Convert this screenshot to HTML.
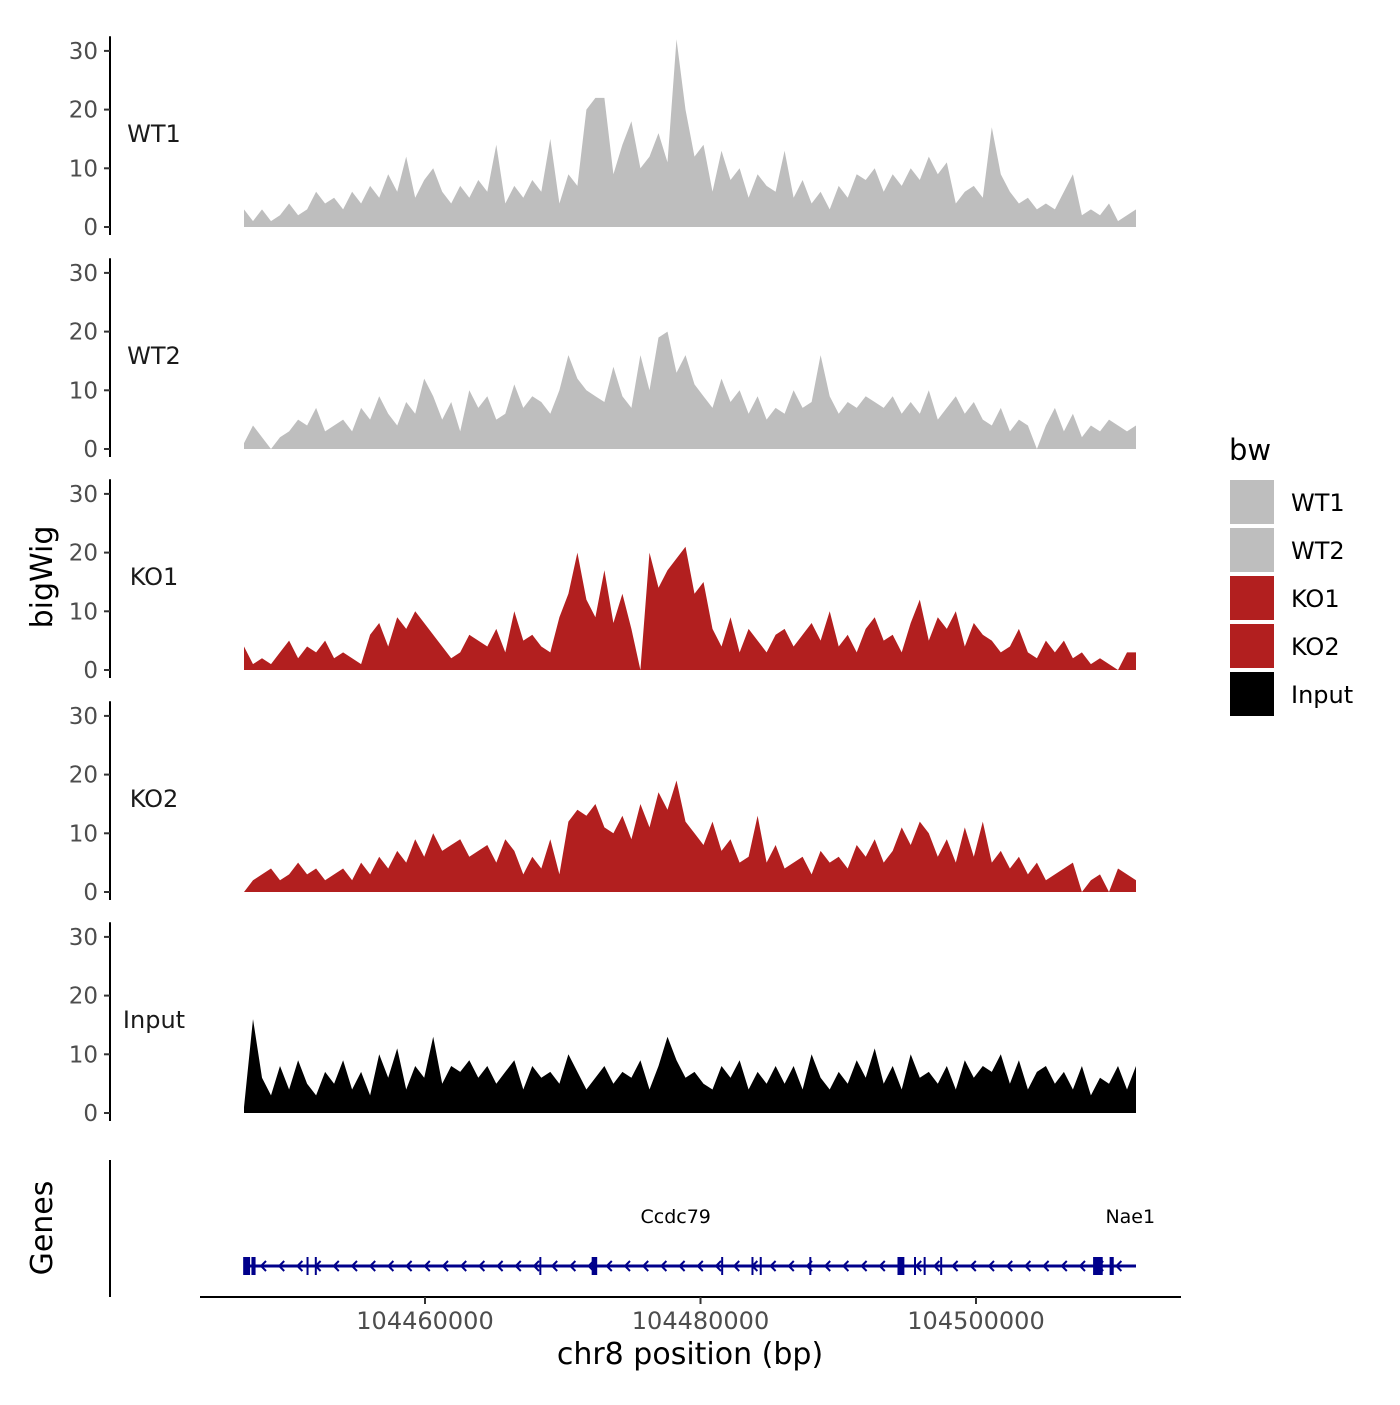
<!DOCTYPE html>
<html><head><meta charset="utf-8"><style>
html,body{margin:0;padding:0;background:#fff;}
svg text{font-family:"DejaVu Sans","Liberation Sans",sans-serif;}
</style></head><body>
<svg id="chart" width="1400" height="1400" viewBox="0 0 1400 1400" xmlns="http://www.w3.org/2000/svg">
<g id="panels"></g>
<text transform="translate(52,577) rotate(-90)" text-anchor="middle" font-size="30" fill="#000">bigWig</text>
<text transform="translate(52,1228) rotate(-90)" text-anchor="middle" font-size="30" fill="#000">Genes</text>
<line x1="110" y1="1160" x2="110" y2="1297" stroke="#000" stroke-width="2"/>
<line x1="200" y1="1297" x2="1181" y2="1297" stroke="#000" stroke-width="2"/>
<g id="xticks"></g>
<text x="690" y="1364" text-anchor="middle" font-size="30" fill="#000">chr8 position (bp)</text>
<g id="genes"></g>
<g>
<text x="1229" y="460" font-size="29" fill="#000">bw</text>
<g id="legend"></g>
</g>
</svg>
<script>
const trackNames = ["WT1","WT2","KO1","KO2","Input"];
const trackColors = ["#bebebe","#bebebe","#b21f1f","#b21f1f","#000000"];
const yTicks = [0,10,20,30];
const xTickValues = [104460000,104480000,104500000];
const wt1 = [3,1,3,1,2,4,2,3,6,4, 5,3,6,4,7,5,9,6,12,5, 8,10,6,4,7,5,8,6,14,4, 7,5,8,6,15,4,9,7,20,22, 22,9,14,18,10,12,16,11,32,20, 12,14,6,13,8,10,5,9,7,6, 13,5,8,4,6,3,7,5,9,8, 10,6,9,7,10,8,12,9,11,4, 6,7,5,17,9,6,4,5,3,4, 3,6,9,2,3,2,4,1,2,3];
const wt2 = [1,4,2,0,2,3,5,4,7,3, 4,5,3,7,5,9,6,4,8,6, 12,9,5,8,3,10,7,9,5,6, 11,7,9,8,6,10,16,12,10,9, 8,14,9,7,16,10,19,20,13,16, 11,9,7,12,8,10,6,9,5,7, 6,10,7,8,16,9,6,8,7,9, 8,7,9,6,8,6,10,5,7,9, 6,8,5,4,7,3,5,4,0,4, 7,3,6,2,4,3,5,4,3,4];
const ko1 = [4,1,2,1,3,5,2,4,3,5, 2,3,2,1,6,8,4,9,7,10, 8,6,4,2,3,6,5,4,7,3, 10,5,6,4,3,9,13,20,12,9, 17,8,13,7,0,20,14,17,19,21, 13,15,7,4,9,3,7,5,3,6, 7,4,6,8,5,10,4,6,3,7, 9,5,6,3,8,12,5,9,7,10, 4,8,6,5,3,4,7,3,2,5, 3,5,2,3,1,2,1,0,3,3];
const ko2 = [0,2,3,4,2,3,5,3,4,2, 3,4,2,5,3,6,4,7,5,9, 6,10,7,8,9,6,7,8,5,9, 7,3,6,4,9,3,12,14,13,15, 11,10,13,9,15,11,17,14,19,12, 10,8,12,7,9,5,6,13,5,8, 4,5,6,3,7,5,6,4,8,6, 9,5,7,11,8,12,10,6,9,5, 11,6,12,5,7,4,6,3,5,2, 3,4,5,0,2,3,0,4,3,2];
const input = [1,16,6,3,8,4,9,5,3,7, 5,9,4,7,3,10,6,11,4,8, 6,13,5,8,7,9,6,8,5,7, 9,4,8,6,7,5,10,7,4,6, 8,5,7,6,9,4,8,13,9,6, 7,5,4,8,6,9,4,7,5,8, 5,8,4,10,6,4,7,5,9,6, 11,5,8,4,10,6,7,5,8,4, 9,6,8,7,10,5,9,4,7,8, 5,7,4,8,3,6,5,8,4,8];
const seriesValues = [wt1,wt2,ko1,ko2,input];
const exonStarts = [104446800,104447400,104451400,104452000,104468300,104472100,104481500,104483700,104484300,104487900,104494300,104495500,104496200,104497400,104508500,104509700];
const exonWidths = [500,300,100,100,100,400,100,100,100,100,500,100,100,100,700,300];
const geneNames = ["Ccdc79","Nae1"];
const geneLabelPos = [104478200,104511200];

const NS="http://www.w3.org/2000/svg";
function mk(tag,attrs,parent){const e=document.createElementNS(NS,tag);for(const k in attrs)e.setAttribute(k,attrs[k]);parent.appendChild(e);return e;}
const baselines=[227,449,670,892,1113];
const pxPerUnit=5.87;
const bpX = bp => 425 + (bp-104460000)*(275.5/20000);
const dataX0=244, dataX1=1136;
const panels=document.getElementById('panels');
for(let p=0;p<5;p++){
  const b=baselines[p];
  const yS=v=>b - v*pxPerUnit;
  const g=mk('g',{},panels);
  
  
  const ax=mk('line',{x1:110,y1:yS(32.5),x2:110,y2:b+8,stroke:'#000','stroke-width':2},g);
  
  
  yTicks.forEach(t=>{
    const tk=mk('line',{x1:104,x2:110,y1:yS(t),y2:yS(t),stroke:'#333','stroke-width':2},g);
    
    
    const tl=mk('text',{x:98,y:yS(t)+8,'text-anchor':'end','font-size':23,fill:'#4d4d4d'},g);
    
    
    tl.textContent=t;
  });
  const lab=mk('text',{x:154,y:b-85,'text-anchor':'middle','font-size':24,fill:'#1a1a1a'},g);
  
  
  lab.textContent=trackNames[p];
  const vals=seriesValues[p];
  const n=vals.length;
  const xS=i=>dataX0+i*(dataX1-dataX0)/(n-1);
  let d='M'+xS(0)+','+b;
  vals.forEach((v,i)=>{d+=' L'+xS(i).toFixed(1)+','+yS(v).toFixed(1);});
  d+=' L'+xS(n-1)+','+b+' Z';
  const area=mk('path',{d:d,fill:trackColors[p]},g);
  
  
}
const xt=document.getElementById('xticks');
xTickValues.forEach(v=>{
  const x=bpX(v);
  const t=mk('line',{x1:x,x2:x,y1:1297,y2:1304,stroke:'#333','stroke-width':2},xt);
  
  
  const l=mk('text',{x:x,y:1329,'text-anchor':'middle','font-size':24,fill:'#4d4d4d'},xt);
  
  
  l.textContent=v;
});
const gg=document.getElementById('genes');
const gl=mk('line',{x1:244,x2:1136,y1:1266,y2:1266,stroke:'#00008b','stroke-width':3},gg);


for(let x=262;x<1125;x+=18.2){
  const c=mk('path',{d:`M${x+4},${1261} L${x-1},${1266} L${x+4},${1271}`,fill:'none',stroke:'#00008b','stroke-width':2},gg);
  
  
}
exonStarts.forEach((s,i)=>{
  const x=bpX(s), w=Math.max(2,exonWidths[i]*275.5/20000);
  const r=mk('rect',{x:x,y:1257,width:w,height:18,fill:'#00008b'},gg);
  
  
});
geneNames.forEach((nm,i)=>{
  const t=mk('text',{x:bpX(geneLabelPos[i]),y:1223,'text-anchor':'middle','font-size':19,fill:'#000'},gg);
  
  
  t.textContent=nm;
});
const lg=document.getElementById('legend');
trackNames.forEach((nm,i)=>{
  const y=480+i*48;
  const r=mk('rect',{x:1230,y:y,width:44,height:44,fill:trackColors[i]},lg);
  
  
  const t=mk('text',{x:1291,y:y+31,'font-size':24,fill:'#000'},lg);
  
  
  t.textContent=nm;
});
</script>
</body></html>
